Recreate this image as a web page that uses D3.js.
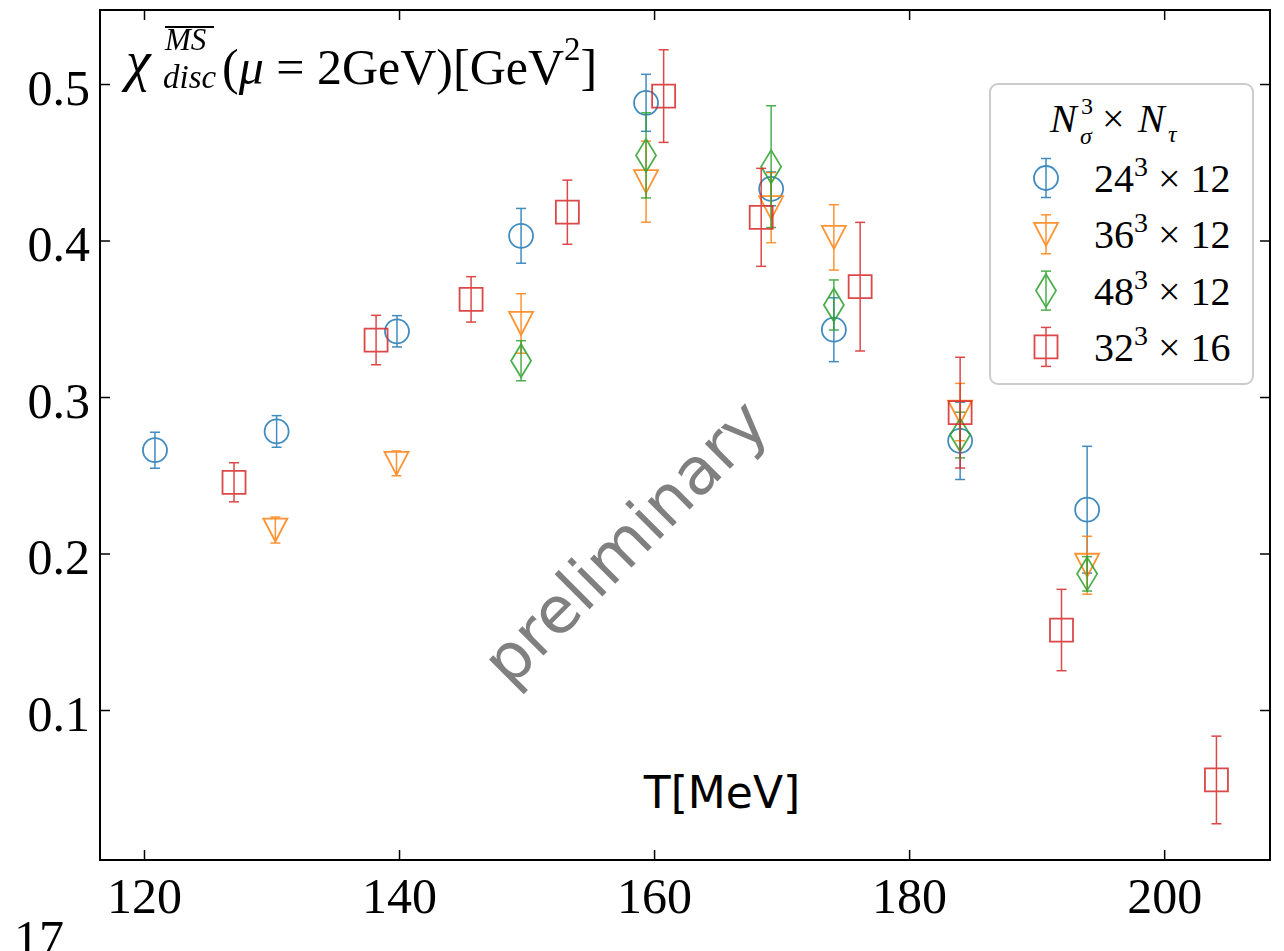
<!DOCTYPE html>
<html>
<head>
<meta charset="utf-8">
<script src="https://cdn.jsdelivr.net/npm/d3@7"></script>
<style>
  html, body { margin: 0; padding: 0; background: #fff; }
  svg { display: block; }
  .tick-label { font-family: "Liberation Serif", "DejaVu Serif", serif; font-size: 50px; fill: #000; }
</style>
</head>
<body>
<svg id="chart" width="1284" height="951"></svg>
<script>
// ---- data ----
const temps24 = [120.86, 130.4, 139.84, 149.57, 159.37, 169.18, 174.1, 184.0, 193.96];
const vals24  = [0.266, 0.278, 0.342, 0.403, 0.488, 0.433, 0.343, 0.272, 0.228];
const errs24  = [0.0115, 0.0101, 0.010, 0.0175, 0.0182, 0.0108, 0.0204, 0.0247, 0.0405];

const temps36 = [130.3, 139.8, 149.57, 159.37, 169.18, 174.1, 184.0, 193.96];
const vals36  = [0.215, 0.2576, 0.347, 0.4376, 0.421, 0.402, 0.2904, 0.1925];
const errs36  = [0.0083, 0.0079, 0.019, 0.0259, 0.0224, 0.0209, 0.0183, 0.0185];

const temps48 = [149.57, 159.37, 169.18, 174.1, 184.0, 193.96];
const vals48  = [0.3232, 0.4544, 0.4472, 0.3588, 0.2757, 0.187];
const errs48  = [0.0128, 0.0272, 0.0389, 0.016, 0.0146, 0.011];

const temps32 = [127.06, 138.2, 145.65, 153.2, 160.75, 168.4, 176.16, 184.0, 191.95, 204.1];
const vals32  = [0.2455, 0.3364, 0.3624, 0.4181, 0.4923, 0.4148, 0.3705, 0.290, 0.1511, 0.0553];
const errs32  = [0.0125, 0.0158, 0.0145, 0.0205, 0.0296, 0.0313, 0.0411, 0.0354, 0.026, 0.028];

const xTicks = [120, 140, 160, 180, 200];
const yTicks = [0.1, 0.2, 0.3, 0.4, 0.5];
const legendLabels = ['24', '36', '48', '32'];
const legendTau = ['12', '12', '12', '16'];

const series = [
  { t: temps24, v: vals24, e: errs24, color: '#1f77b4', shape: 'circle' },
  { t: temps36, v: vals36, e: errs36, color: '#ff7f0e', shape: 'tri' },
  { t: temps48, v: vals48, e: errs48, color: '#2ca02c', shape: 'diamond' },
  { t: temps32, v: vals32, e: errs32, color: '#d62728', shape: 'square' }
];

const margin = { top: 10, right: 14, bottom: 91, left: 100 };
const width = 1284 - margin.left - margin.right;
const height = 951 - margin.top - margin.bottom;

const svg = d3.select('#chart');
const g = svg.append('g')
  .attr('transform', 'translate(' + margin.left + ',' + margin.top + ')');

const x = d3.scaleLinear().domain([116.55, 208.3]).range([0, width]);
const y = d3.scaleLinear().domain([0.00415, 0.5473]).range([height, 0]);

// axes: ticks pointing inward on all four sides
const tickLen = 10;
g.append('g')
  .attr('transform', 'translate(0,' + height + ')')
  .call(d3.axisBottom(x).tickValues(xTicks).tickSizeInner(-tickLen).tickSizeOuter(0))
  .call(a => a.select('.domain').remove())
  .call(a => a.selectAll('line').attr('stroke-width', 1.5))
  .call(a => a.selectAll('text').attr('class', 'tick-label').attr('dy', null).attr('y', 53));

g.append('g')
  .call(d3.axisLeft(y).tickValues(yTicks).tickSizeInner(-tickLen).tickSizeOuter(0).tickFormat(d3.format('.1f')))
  .call(a => a.select('.domain').remove())
  .call(a => a.selectAll('line').attr('stroke-width', 1.5))
  .call(a => a.selectAll('text').attr('class', 'tick-label').attr('x', -10).attr('dy', '0.4em'));

g.append('g')
  .call(d3.axisTop(x).tickValues(xTicks).tickSizeInner(-tickLen).tickSizeOuter(0).tickFormat(''))
  .call(a => a.select('.domain').remove())
  .call(a => a.selectAll('line').attr('stroke-width', 1.5));

g.append('g')
  .attr('transform', 'translate(' + width + ',0)')
  .call(d3.axisRight(y).tickValues(yTicks).tickSizeInner(-tickLen).tickSizeOuter(0).tickFormat(''))
  .call(a => a.select('.domain').remove())
  .call(a => a.selectAll('line').attr('stroke-width', 1.5));

g.append('rect')
  .attr('width', width).attr('height', height)
  .attr('fill', 'none').attr('stroke', '#000').attr('stroke-width', 2);

// watermark
g.append('text')
  .attr('transform', 'translate(' + (625 - margin.left) + ',' + (542 - margin.top) + ') rotate(-45)')
  .attr('text-anchor', 'middle')
  .attr('dominant-baseline', 'central')
  .style('font-family', '"DejaVu Sans", sans-serif')
  .style('font-size', '65px')
  .attr('fill', '#808080')
  .text('preliminary');

// x label placed inside the axes
g.append('text')
  .attr('x', 722 - margin.left).attr('y', 808 - margin.top)
  .attr('text-anchor', 'middle')
  .style('font-family', '"DejaVu Sans", sans-serif')
  .style('font-size', '44px')
  .text('T[MeV]');

// marker path generator, centred on (0,0)
function markerPath(shape) {
  const p = d3.path();
  if (shape === 'circle') {
    p.arc(0, 0, 12, 0, 2 * Math.PI);
  } else if (shape === 'tri') {
    p.moveTo(-12, -11.5); p.lineTo(12, -11.5); p.lineTo(0, 11.5); p.closePath();
  } else if (shape === 'diamond') {
    p.moveTo(0, -16.5); p.lineTo(10, 0); p.lineTo(0, 16.5); p.lineTo(-10, 0); p.closePath();
  } else {
    p.rect(-11.5, -11.5, 23, 23);
  }
  return p.toString();
}

function drawErrorbar(sel, color, halfPx) {
  sel.append('line').attr('y1', -halfPx).attr('y2', halfPx);
  sel.append('line').attr('x1', -5).attr('x2', 5).attr('y1', -halfPx).attr('y2', -halfPx);
  sel.append('line').attr('x1', -5).attr('x2', 5).attr('y1', halfPx).attr('y2', halfPx);
  sel.selectAll('line').attr('stroke', color).attr('stroke-width', 1.5);
}

series.forEach(s => {
  const pts = s.t.map((t, i) => ({ t: t, v: s.v[i], e: s.e[i] }));
  const grp = g.append('g').attr('opacity', 0.85);
  const pt = grp.selectAll('g.pt')
    .data(pts)
    .enter()
    .append('g')
    .attr('class', 'pt')
    .attr('transform', d => 'translate(' + x(d.t) + ',' + y(d.v) + ')');
  pt.each(function (d) {
    drawErrorbar(d3.select(this), s.color, y(d.v - d.e) - y(d.v));
  });
  pt.append('path')
    .attr('d', markerPath(s.shape))
    .attr('fill', 'none')
    .attr('stroke', s.color)
    .attr('stroke-width', 1.8);
});

// legend
const leg = svg.append('g').attr('transform', 'translate(990,84)');
leg.append('rect')
  .attr('width', 263).attr('height', 300).attr('rx', 8)
  .attr('fill', '#fff').attr('fill-opacity', 0.8)
  .attr('stroke', '#cccccc').attr('stroke-width', 2);

const legFont = '"Liberation Serif", serif';
leg.append('text').attr('x', 60).attr('y', 48)
  .style('font-family', legFont).style('font-size', '40px').style('font-style', 'italic').text('N');
leg.append('text').attr('x', 90).attr('y', 60)
  .style('font-family', legFont).style('font-size', '24px').style('font-style', 'italic').text('σ');
leg.append('text').attr('x', 91).attr('y', 30)
  .style('font-family', legFont).style('font-size', '24px').text('3');
leg.append('text').attr('x', 112).attr('y', 48)
  .style('font-family', legFont).style('font-size', '40px').text('×');
leg.append('text').attr('x', 148).attr('y', 48)
  .style('font-family', legFont).style('font-size', '40px').style('font-style', 'italic').text('N');
leg.append('text').attr('x', 178).attr('y', 58)
  .style('font-family', legFont).style('font-size', '24px').style('font-style', 'italic').text('τ');

series.forEach((s, i) => {
  const row = leg.append('g')
    .attr('transform', 'translate(56,' + (94 + i * 56.3) + ')')
    .attr('opacity', 0.85);
  drawErrorbar(row, s.color, 19.5);
  row.append('path')
    .attr('d', markerPath(s.shape))
    .attr('fill', 'none')
    .attr('stroke', s.color)
    .attr('stroke-width', 1.8);
  const t = leg.append('text')
    .attr('x', 104).attr('y', 94 + i * 56.3 + 14)
    .style('font-family', legFont)
    .style('font-size', '40px');
  t.append('tspan').text(legendLabels[i]);
  t.append('tspan').attr('dy', -16).style('font-size', '28px').text('3');
  t.append('tspan').attr('dy', 16).text(' × ' + legendTau[i]);
});

// y label written inside the axes, top left
const lab = svg.append('g')
  .style('font-family', '"Liberation Serif", serif');
lab.append('text').attr('x', 126).attr('y', 80).style('font-size', '56px').style('font-style', 'italic').text('χ');
lab.append('text').attr('x', 165).attr('y', 50).style('font-size', '31px').style('font-style', 'italic').text('MS');
lab.append('line').attr('x1', 165).attr('x2', 214).attr('y1', 27).attr('y2', 27).attr('stroke', '#000').attr('stroke-width', 2);
lab.append('text').attr('x', 163).attr('y', 88).style('font-size', '33px').style('font-style', 'italic').text('disc');
const rest = lab.append('text').attr('x', 222).attr('y', 84).style('font-size', '50px');
rest.append('tspan').text('(');
rest.append('tspan').style('font-style', 'italic').text('μ');
rest.append('tspan').text(' = 2GeV)[GeV');
rest.append('tspan').attr('dy', -24).style('font-size', '33px').text('2');
rest.append('tspan').attr('dy', 24).text(']');

// stray page number at bottom left, cut by the lower edge as in the source
svg.append('text')
  .attr('x', 14).attr('y', 955)
  .style('font-family', '"Liberation Serif", serif')
  .style('font-size', '50px')
  .text('17');
</script>
</body>
</html>
